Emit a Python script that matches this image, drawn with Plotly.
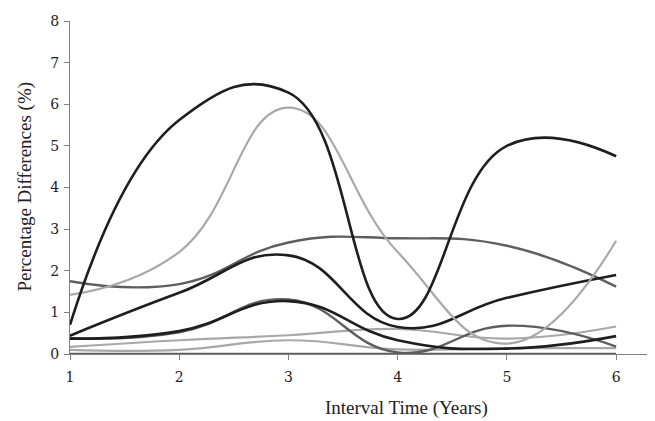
import plotly.graph_objects as go

years = [1, 2, 3, 4, 5, 6]
x_ticks = [1, 2, 3, 4, 5, 6]
y_ticks = [0, 1, 2, 3, 4, 5, 6, 7, 8]

s_a = [0.70, 5.62, 6.28, 0.84, 5.00, 4.75]
s_b = [1.42, 2.45, 5.92, 2.45, 0.25, 2.72]
s_c = [1.75, 1.68, 2.68, 2.78, 2.60, 1.62]
s_d = [0.44, 1.47, 2.37, 0.65, 1.35, 1.90]
s_e = [0.37, 0.55, 1.27, 0.33, 0.13, 0.43]
s_f = [0.38, 0.52, 1.31, 0.04, 0.68, 0.18]
s_g = [0.17, 0.33, 0.45, 0.60, 0.37, 0.66]
s_h = [0.10, 0.10, 0.33, 0.11, 0.14, 0.14]
s_z = [0.00, 0.00, 0.00, 0.00, 0.00, 0.00]

BLACK = "#1e1e1e"
DARK = "#5e5e5e"
LIGHT = "#a8a8a8"

series = [
    (s_z, DARK, 2.5),
    (s_h, LIGHT, 2.2),
    (s_g, LIGHT, 2.2),
    (s_f, DARK, 2.4),
    (s_e, BLACK, 2.6),
    (s_c, DARK, 2.4),
    (s_d, BLACK, 2.6),
    (s_b, LIGHT, 2.2),
    (s_a, BLACK, 2.6),
]

fig = go.Figure()
for vals, col, w in series:
    fig.add_trace(go.Scatter(
        x=years, y=vals, mode="lines",
        line=dict(color=col, width=w, shape="spline", smoothing=1.3),
        showlegend=False, hoverinfo="skip",
    ))

# the page has an 8px body margin; compensate so the plot lands where the reference has it
OFF = 8
W, H = 655 - OFF, 421 - OFF
l, r, t, b = 70 - OFF, 5, 14 - OFF, 421 - 354
pw, ph = W - l - r, H - t - b

tick_font = dict(family="DejaVu Serif", size=14, color="#222")
title_font = dict(family="Liberation Serif", size=19, color="#222")

fig.update_layout(
    width=W, height=H,
    margin=dict(l=l, r=r, t=t, b=b),
    paper_bgcolor="white", plot_bgcolor="white",
    xaxis=dict(
        range=[1, 6.31], tickvals=x_ticks, ticktext=[str(v) for v in x_ticks],
        showgrid=False, zeroline=False, showline=True, linecolor="#808080",
        linewidth=1, ticks="outside", ticklen=5, tickcolor="#808080",
        tickfont=tick_font, layer="below traces", ticklabelstandoff=5,
        ticklabeloverflow="allow",
    ),
    yaxis=dict(
        range=[0, 8], tickvals=y_ticks, ticktext=[str(v) for v in y_ticks],
        showgrid=False, zeroline=False, showline=True, linecolor="#808080",
        linewidth=1, ticks="outside", ticklen=5, tickcolor="#808080",
        tickfont=tick_font, layer="below traces", ticklabelstandoff=2,
        ticklabeloverflow="allow",
    ),
    annotations=[
        dict(text="Interval Time (Years)",
             x=(406 - 70) / pw, y=(354 - 409) / ph, xref="paper", yref="paper",
             xanchor="center", yanchor="middle", showarrow=False, font=title_font),
        dict(text="Percentage Differences (%)", textangle=-90,
             x=(25 - 70) / pw, y=(354 - 183) / ph, xref="paper", yref="paper",
             xanchor="center", yanchor="middle", showarrow=False, font=title_font),
    ],
)

fig.write_html("out.html")
